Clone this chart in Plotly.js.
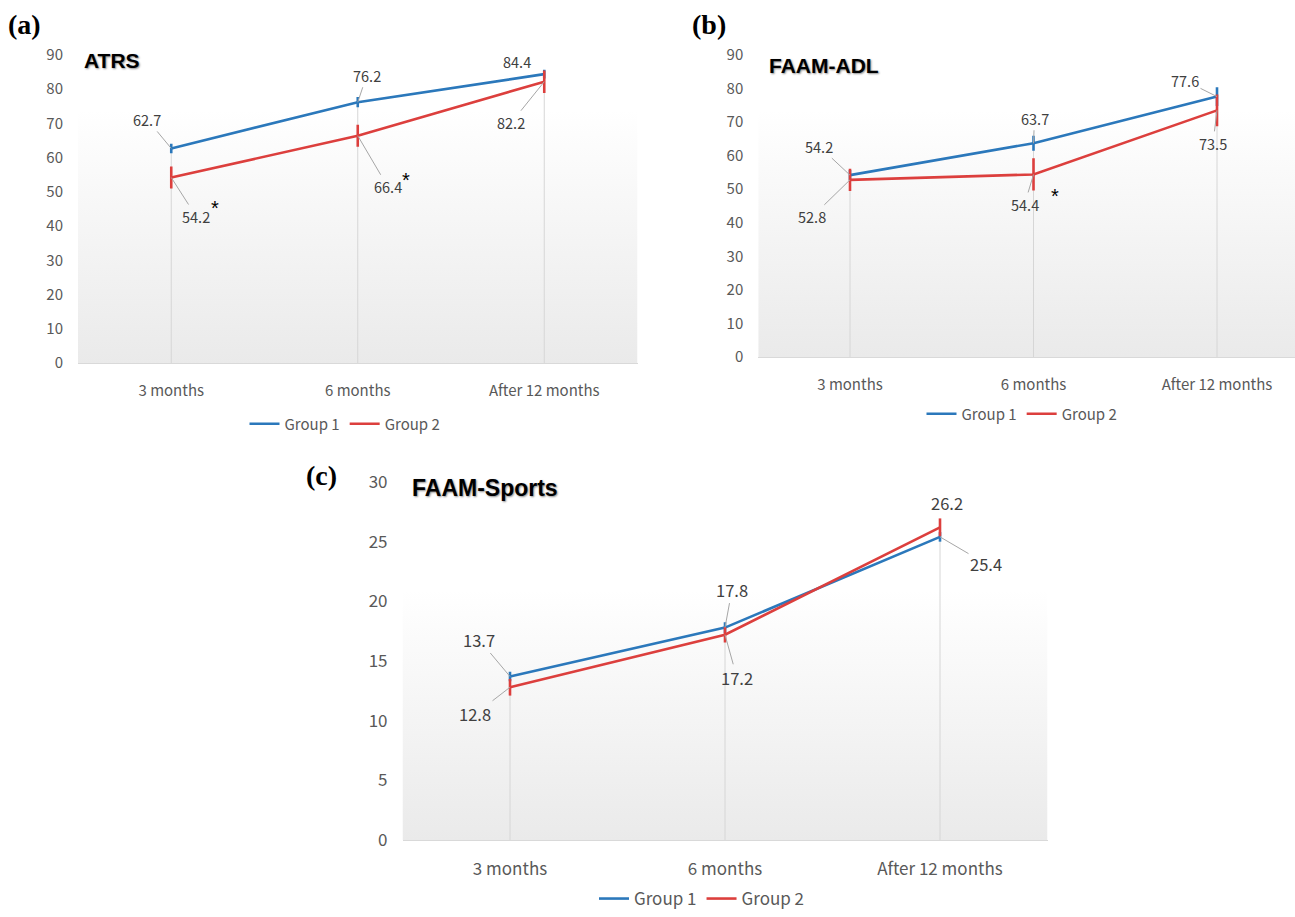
<!DOCTYPE html>
<html>
<head>
<meta charset="utf-8">
<script src="https://cdn.plot.ly/plotly-3.0.1.min.js"></script>
<style>html,body{margin:0;padding:0;background:#fff;}#chart{width:1295px;height:917px;}</style>
</head>
<body>
<div id="chart"></div>
<script>
// ---------------- data ----------------
const categories = ['3 months', '6 months', 'After 12 months'];
const seriesNames = ['Group 1', 'Group 2'];

const atrsGroup1 = [62.7, 76.2, 84.4];
const atrsGroup2 = [54.2, 66.4, 82.2];
const atrsGroup1Err = [1.4, 1.5, 1.3];
const atrsGroup2Err = [3.2, 3.2, 3.3];
const atrsGroup2Sig = [true, true, false];

const adlGroup1 = [54.2, 63.7, 77.6];
const adlGroup2 = [52.8, 54.4, 73.5];
const adlGroup1Err = [1.5, 2.2, 2.8];
const adlGroup2Err = [3.3, 4.8, 4.7];
const adlGroup2Sig = [false, true, false];

const sportsGroup1 = [13.7, 17.8, 25.4];
const sportsGroup2 = [12.8, 17.2, 26.2];
const sportsGroup1Err = [0.4, 0.45, 0.4];
const sportsGroup2Err = [0.7, 0.65, 0.75];

const panelTitles = ['ATRS', 'FAAM-ADL', 'FAAM-Sports'];
const panelLetters = ['(a)', '(b)', '(c)'];

// ---------------- layout helpers ----------------
const W = 1295, H = 917;
const px = v => v / W;
const py = v => 1 - v / H;
const BLUE = '#2b78bb', RED = '#dc3f3d', GREY_TXT = '#595959', LABEL_TXT = '#404040';
const FONT = '"Noto Sans CJK KR", "Open Sans", sans-serif';

const panels = [
  { g1: atrsGroup1, g2: atrsGroup2, e1: atrsGroup1Err, e2: atrsGroup2Err, sig: atrsGroup2Sig,
    left: 78, right: 637.5, top: 55, bottom: 363, gradTop: 110, ymax: 90, dtick: 10,
    xrange: [-0.5, 2.5], fs: 15, lfs: 14.5, legX: 345, legY: 424, legAnchor: 'middle',
    title: [82, 60, 21], letter: [6, 25],
    // label offsets (pixels from point): [ax, ay, leader]
    off1: [[-24, -29, 1], [9, -27, 1], [-27, -13, 0]],
    off2: [[25, 39, 1], [30, 51, 1], [-33, 41, 1]],
    star: [[44, -30], [48, -44], null] },
  { g1: adlGroup1, g2: adlGroup2, e1: adlGroup1Err, e2: adlGroup2Err, sig: adlGroup2Sig,
    left: 758.25, right: 1295, top: 55, bottom: 357, gradTop: 110, ymax: 90, dtick: 10,
    xrange: [-0.5, 2.425], fs: 15, lfs: 14.5, legX: 1022, legY: 414, legAnchor: 'middle',
    title: [767, 66, 21], letter: [690, 25],
    off1: [[-31, -29, 1], [1, -25, 1], [-32, -16, 1]],
    off2: [[-38, 37, 1], [-9, 30, 1], [-4, 33, 1]],
    star: [null, [21, -22], null] },
  { g1: sportsGroup1, g2: sportsGroup2, e1: sportsGroup1Err, e2: sportsGroup2Err, sig: [false, false, false],
    left: 402.5, right: 1047.5, top: 482, bottom: 840, gradTop: 590, ymax: 30, dtick: 5,
    xrange: [-0.5, 2.5], fs: 17, lfs: 16.5, legX: 702, legY: 917, legAnchor: 'bottom',
    title: [410, 488, 23], letter: [304, 475],
    off1: [[-31, -37, 1], [7, -38, 1], [46, 27, 1]],
    off2: [[-35, 27, 1], [12, 43, 1], [7, -24, 0]],
    star: [null, null, null] }
];

const gradSvg = 'data:image/svg+xml;utf8,' + encodeURIComponent(
  '<svg xmlns="http://www.w3.org/2000/svg" width="100" height="100" preserveAspectRatio="none">' +
  '<defs><linearGradient id="g" x1="0" y1="0" x2="0" y2="1">' +
  '<stop offset="0" stop-color="#ffffff"/><stop offset="1" stop-color="#eaeaea"/></linearGradient></defs>' +
  '<rect width="100" height="100" fill="url(#g)"/></svg>');

const data = [];
const annotations = [];
const images = [];
const layout = {
  width: W, height: H,
  margin: { l: 0, r: 0, t: 0, b: 0, autoexpand: false },
  paper_bgcolor: '#ffffff', plot_bgcolor: 'rgba(0,0,0,0)',
  font: { family: FONT, color: GREY_TXT },
  showlegend: true,
  annotations: annotations, images: images
};

panels.forEach((p, k) => {
  const sfx = k === 0 ? '' : String(k + 1);
  const xa = 'x' + sfx, ya = 'y' + sfx;
  const legendId = 'legend' + sfx;

  layout['xaxis' + sfx] = {
    domain: [px(p.left), px(p.right)], anchor: ya, type: 'category',
    range: p.xrange, showgrid: false, zeroline: false,
    showline: true, linecolor: '#d9d9d9', linewidth: 1,
    ticks: '', ticklabelstandoff: 14, automargin: false,
    tickfont: { family: FONT, size: p.fs, color: GREY_TXT }, fixedrange: true
  };
  layout['yaxis' + sfx] = {
    domain: [py(p.bottom), py(p.top)], anchor: xa,
    range: [0, p.ymax], dtick: p.dtick, tick0: 0,
    showgrid: false, zeroline: false, showline: false,
    ticks: '', ticklabelstandoff: 14, automargin: false,
    tickfont: { family: FONT, size: p.fs, color: GREY_TXT }, fixedrange: true
  };
  layout[legendId] = {
    x: px(p.legX), y: py(p.legY), xanchor: 'center', yanchor: p.legAnchor,
    orientation: 'h', bgcolor: 'rgba(0,0,0,0)',
    font: { family: FONT, size: p.fs, color: GREY_TXT }, traceorder: 'normal',
    itemwidth: 30
  };

  images.push({
    source: gradSvg, xref: 'paper', yref: 'paper',
    x: px(p.left), y: py(p.gradTop), sizex: (p.right - p.left) / W,
    sizey: (p.bottom - p.gradTop) / H, xanchor: 'left', yanchor: 'top',
    sizing: 'stretch', layer: 'below'
  });

  // drop lines from axis to the highest point at each category
  const dx = [], dy = [];
  categories.forEach((c, i) => {
    dx.push(c, c, null);
    dy.push(0, Math.max(p.g1[i], p.g2[i]), null);
  });
  data.push({ x: dx, y: dy, mode: 'lines', line: { color: '#d6d6d6', width: 1 },
    xaxis: xa, yaxis: ya, showlegend: false, hoverinfo: 'skip' });

  [[p.g1, p.e1, BLUE, seriesNames[0]], [p.g2, p.e2, RED, seriesNames[1]]].forEach(([vals, errs, col, nm]) => {
    data.push({
      x: categories, y: vals, name: nm, mode: 'lines',
      line: { color: col, width: 2.6 },
      error_y: { type: 'data', array: errs, visible: true, color: col, thickness: 2.6, width: 0 },
      xaxis: xa, yaxis: ya, legend: legendId
    });
  });

  // data labels
  const addLabels = (vals, offs) => {
    vals.forEach((v, i) => {
      const [ax, ay, leader] = offs[i];
      const base = { x: categories[i], y: v, xref: xa, yref: ya, text: v.toFixed(1),
        font: { family: FONT, size: p.lfs, color: LABEL_TXT } };
      if (leader) {
        annotations.push(Object.assign(base, { showarrow: true, ax: ax, ay: ay,
          arrowhead: 0, arrowwidth: 1, arrowcolor: '#a6a6a6', standoff: 0, startstandoff: 0 }));
      } else {
        annotations.push(Object.assign(base, { showarrow: false, xshift: ax, yshift: -ay }));
      }
    });
  };
  addLabels(p.g1, p.off1);
  addLabels(p.g2, p.off2);

  p.sig.forEach((s, i) => {
    if (s && p.star[i]) {
      annotations.push({ x: categories[i], y: p.g2[i], xref: xa, yref: ya, text: '*',
        showarrow: false, xshift: p.star[i][0], yshift: p.star[i][1],
        font: { family: 'Liberation Sans, Arial, sans-serif', size: 20, color: '#000' } });
    }
  });

  // panel title
  annotations.push({ xref: 'paper', yref: 'paper', x: px(p.title[0]), y: py(p.title[1]),
    xanchor: 'left', yanchor: 'middle', showarrow: false, text: '<b>' + panelTitles[k] + '</b>',
    font: { family: '"Liberation Sans", Arial, sans-serif', size: p.title[2], color: '#000',
      shadow: '1px 1px 2px rgba(0,0,0,0.45)' } });
  // panel letter
  annotations.push({ xref: 'paper', yref: 'paper', x: px(p.letter[0]), y: py(p.letter[1]),
    xanchor: 'left', yanchor: 'middle', showarrow: false, text: '<b>' + panelLetters[k] + '</b>',
    font: { family: '"Liberation Serif", "Times New Roman", serif', size: 28, color: '#000' } });
});

Plotly.newPlot('chart', data, layout, { displayModeBar: false, staticPlot: true });
</script>
</body>
</html>
